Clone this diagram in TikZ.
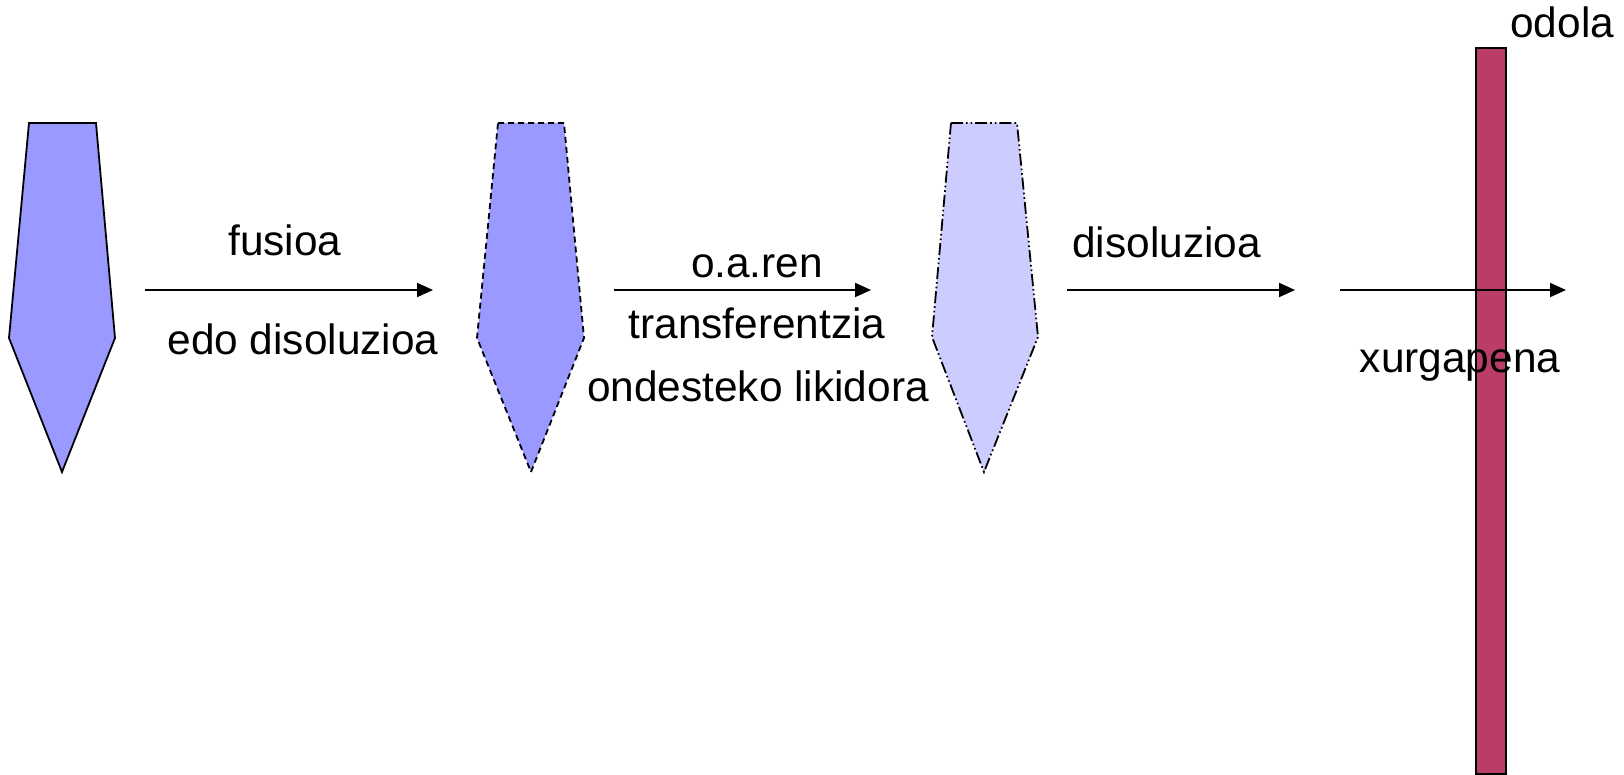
\documentclass[tikz,border=0pt]{standalone}
\usepackage{fontspec}
\setmainfont{Liberation Sans}
\usetikzlibrary{arrows.meta}
\definecolor{tabfill}{RGB}{153,153,255}
\definecolor{tablight}{RGB}{204,204,255}
\definecolor{blood}{RGB}{185,61,102}
\tikzset{
  tablet/.style={draw=black,line width=0.9pt,line join=miter},
  flow/.style={line width=1pt,-{Triangle[length=8pt,width=7pt]}},
  lbl/.style={font=\fontsize{21.2}{25}\selectfont,inner sep=0pt,anchor=base},
}
\begin{document}
\begin{tikzpicture}[x=0.5pt,y=-0.5pt]
\useasboundingbox (0,0) rectangle (1624,775);

% solid tablet
\filldraw[tablet,fill=tabfill]
  (29,123) -- (96,123) -- (115,338) -- (62,472) -- (9,338) -- cycle;
% melted tablet (dashed outline)
\filldraw[tablet,fill=tabfill,dash pattern=on 3pt off 2pt]
  (498,123) -- (564,123) -- (584,338) -- (531,472) -- (477,338) -- cycle;
% dissolved drug (dash-dot-dot outline)
\filldraw[tablet,fill=tablight,dash pattern=on 6pt off 1.5pt on 0.8pt off 1.5pt on 0.8pt off 1.5pt]
  (951,123) -- (1017,123) -- (1038,337) -- (984,472) -- (932,337) -- cycle;

% blood vessel wall
\filldraw[draw=black,line width=0.9pt,fill=blood] (1476,48) rectangle (1506,774);

% arrow end points
\coordinate (a1s) at (145,290);  \coordinate (a1e) at (433,290);
\coordinate (a2s) at (614,290);  \coordinate (a2e) at (871,290);
\coordinate (a3s) at (1067,290); \coordinate (a3e) at (1295,290);
\coordinate (a4s) at (1340,290); \coordinate (a4e) at (1566,290);

\draw[flow] (a1s) -- (a1e);
\draw[flow] (a2s) -- (a2e);
\draw[flow] (a3s) -- (a3e);
\draw[flow] (a4s) -- (a4e);

% labels
\node[lbl] (fus) at (285,256) {fusioa};
\node[lbl] (edo) at (303,355) {edo disoluzioa};
\node[lbl] (oar) at (757,278) {o.a.ren};
\node[lbl] (tra) at (757,339) {transferentzia};
\node[lbl] (ond) at (758,401) {ondesteko likidora};
\node[lbl,anchor=base west] (dis) at (1072,258) {disoluzioa};
\node[lbl] (xur) at (1460,372) {xurgapena};
\node[lbl,anchor=base west] (odo) at (1510,38) {odola};
\end{tikzpicture}
\end{document}
